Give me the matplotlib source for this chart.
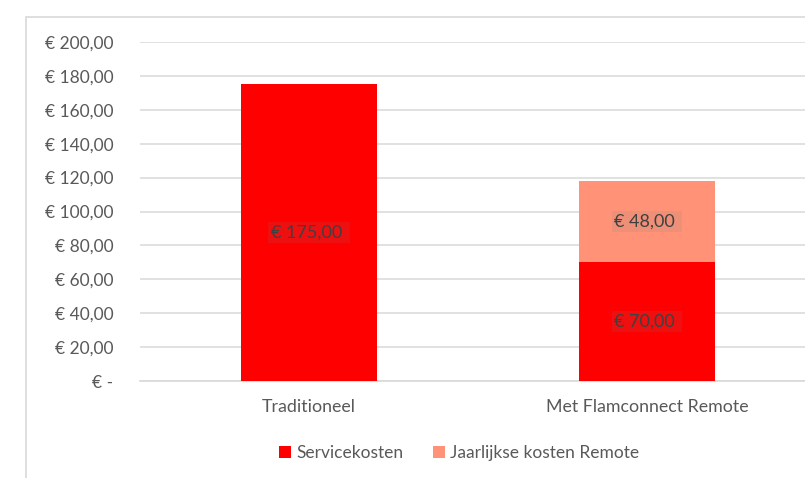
import matplotlib.pyplot as plt
from matplotlib.patches import Rectangle
from matplotlib.ticker import FuncFormatter

# --- DATA ---
categories = ["Traditioneel", "Met Flamconnect Remote"]
servicekosten = [175.0, 70.0]
remote_kosten = [0.0, 48.0]
series_names = ["Servicekosten", "Jaarlijkse kosten Remote"]

RED = "#FF0000"
SALMON = "#FF9277"
GRID = "#D9D9D9"
TEXT = "#595959"

plt.rcParams["font.family"] = ["Lato", "DejaVu Sans"]

W, H = 805, 478
fig = plt.figure(figsize=(W / 100, H / 100), dpi=100)

# chart area frame (runs off right/bottom edge like the screenshot)
fig.patches.append(Rectangle((26 / W, -0.1), 1.2, 1.1 - 17 / H, transform=fig.transFigure,
                             fill=False, edgecolor=GRID, linewidth=1.2))

# plot area in pixels: x 140..816, y 42..381
ax = fig.add_axes([140 / W, (H - 381) / H, 676 / W, (381 - 42) / H])

x = range(len(categories))
ax.bar(x, servicekosten, width=0.4, color=RED, label=series_names[0], zorder=3)
ax.bar(x, remote_kosten, width=0.4, bottom=servicekosten, color=SALMON,
       label=series_names[1], zorder=3)

def euro(v):
    return f"€ {v:,.2f}".replace(",", "X").replace(".", ",").replace("X", ".")

box = dict(boxstyle="square,pad=0.15", facecolor="#7F7F7F", alpha=0.13, edgecolor="none")
for i in x:
    ax.text(i, servicekosten[i] / 2, euro(servicekosten[i]) + " ", ha="center", va="center",
            fontsize=13, color="#404040", bbox=box, zorder=4)
    if remote_kosten[i] > 0:
        ax.text(i, servicekosten[i] + remote_kosten[i] / 2, euro(remote_kosten[i]) + " ",
                ha="center", va="center", fontsize=13, color="#404040", bbox=box, zorder=4)

ax.set_xlim(-0.5, 1.5)
ax.set_ylim(0, 200)
ax.set_yticks(range(0, 201, 20))
ax.yaxis.set_major_formatter(FuncFormatter(lambda v, p: "€ -" if v == 0 else euro(v)))
ax.set_xticks(list(x))
ax.set_xticklabels(categories)
ax.tick_params(axis="y", length=0, pad=19, labelsize=12.5, labelcolor=TEXT)
ax.tick_params(axis="x", length=0, pad=13, labelsize=12.8, labelcolor=TEXT)

ax.grid(axis="y", color=GRID, linewidth=1.1, zorder=0)
for s in ["top", "right", "left"]:
    ax.spines[s].set_visible(False)
ax.spines["bottom"].set_color(GRID)
ax.spines["bottom"].set_linewidth(1.2)

fig.legend(loc="center", bbox_to_anchor=(459 / W, 1 - 453 / H), ncol=2, frameon=False,
           fontsize=12.5, labelcolor=TEXT, handlelength=0.7, handleheight=0.7,
           handletextpad=0.3, columnspacing=1.7)

fig.savefig("out.png", dpi=100)
